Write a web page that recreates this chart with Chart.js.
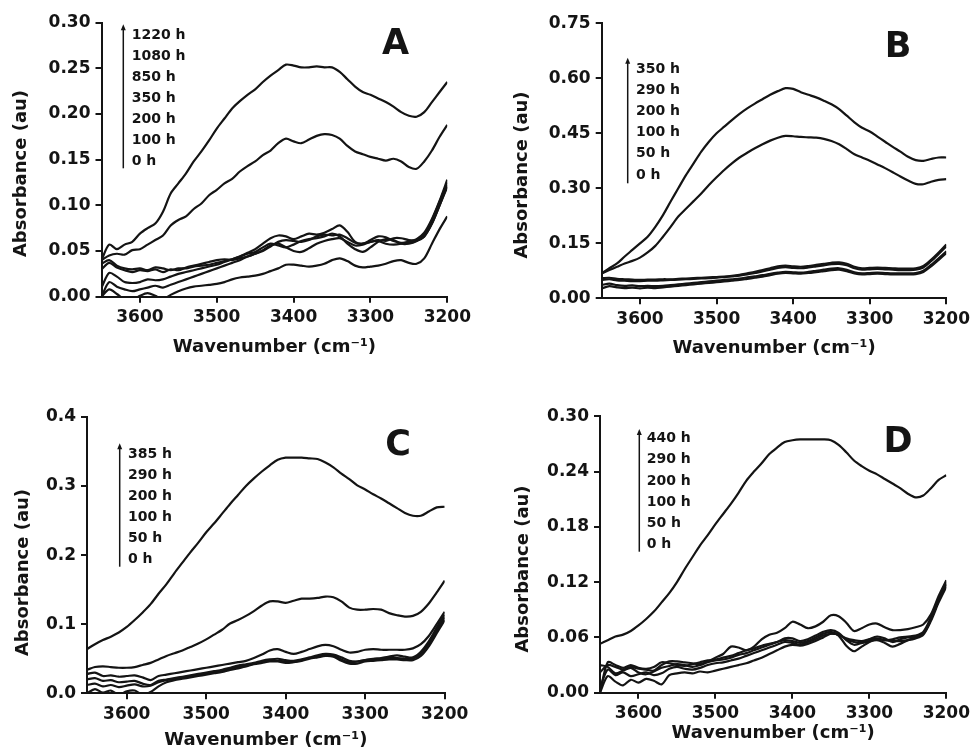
<!DOCTYPE html>
<html lang="en">
<head>
<meta charset="UTF-8">
<title>Absorbance vs wavenumber</title>
<script src="https://cdn.jsdelivr.net/npm/chart.js"></script>
<style>
  body { margin: 0; background: #fff; }
  #wrap { position: relative; width: 975px; height: 750px; }
  #wrap canvas { position: absolute; }
</style>
</head>
<body>
<div id="wrap">
  <canvas id="chartA" width="487" height="375" style="left:0;top:0"></canvas>
  <canvas id="chartB" width="488" height="375" style="left:487px;top:0"></canvas>
  <canvas id="chartC" width="487" height="375" style="left:0;top:375px"></canvas>
  <canvas id="chartD" width="488" height="375" style="left:487px;top:375px"></canvas>
</div>
<script>
  // wavenumber grid (cm-1), shared by all panels
  const wavenumbers = [3650, 3640, 3630, 3620, 3610, 3600, 3590, 3580, 3570, 3560,
    3550, 3540, 3530, 3520, 3510, 3500, 3490, 3480, 3470, 3460,
    3450, 3440, 3430, 3420, 3410, 3400, 3390, 3380, 3370, 3360,
    3350, 3340, 3330, 3320, 3310, 3300, 3290, 3280, 3270, 3260,
    3250, 3240, 3230, 3220, 3210, 3200];
  const xTicks = [3600, 3500, 3400, 3300, 3200];

  // panel A
  const labelsA = ['1220 h', '1080 h', '850 h', '350 h', '200 h', '100 h', '0 h'];
  const yTicksA = [0, 0.05, 0.10, 0.15, 0.20, 0.25, 0.30];
  const a1220 = [0.040, 0.057, 0.052, 0.057, 0.060, 0.069, 0.075, 0.080, 0.093, 0.113, 0.124, 0.135, 0.148, 0.159, 0.171, 0.184, 0.195, 0.206, 0.214, 0.221, 0.227, 0.235, 0.242, 0.248, 0.254, 0.253, 0.251, 0.251, 0.252, 0.251, 0.251, 0.246, 0.238, 0.230, 0.224, 0.221, 0.217, 0.213, 0.208, 0.202, 0.198, 0.197, 0.202, 0.213, 0.224, 0.235];
  const a1080 = [0.040, 0.045, 0.047, 0.046, 0.051, 0.052, 0.057, 0.062, 0.067, 0.078, 0.084, 0.088, 0.096, 0.102, 0.111, 0.117, 0.124, 0.129, 0.137, 0.143, 0.148, 0.155, 0.160, 0.168, 0.173, 0.170, 0.168, 0.172, 0.176, 0.178, 0.177, 0.173, 0.165, 0.159, 0.156, 0.153, 0.151, 0.149, 0.151, 0.148, 0.142, 0.140, 0.148, 0.160, 0.175, 0.188];
  const a850 = [0.036, 0.040, 0.034, 0.031, 0.030, 0.031, 0.029, 0.032, 0.031, 0.029, 0.031, 0.031, 0.033, 0.034, 0.035, 0.037, 0.039, 0.041, 0.044, 0.048, 0.052, 0.058, 0.064, 0.067, 0.066, 0.063, 0.066, 0.069, 0.068, 0.070, 0.074, 0.078, 0.071, 0.060, 0.058, 0.062, 0.066, 0.065, 0.061, 0.059, 0.060, 0.063, 0.070, 0.085, 0.105, 0.128];
  const a350 = [0.030, 0.037, 0.032, 0.029, 0.027, 0.029, 0.028, 0.030, 0.027, 0.030, 0.029, 0.032, 0.034, 0.036, 0.038, 0.040, 0.041, 0.040, 0.042, 0.044, 0.047, 0.050, 0.055, 0.060, 0.062, 0.061, 0.060, 0.062, 0.066, 0.068, 0.067, 0.068, 0.064, 0.059, 0.058, 0.060, 0.062, 0.061, 0.064, 0.064, 0.062, 0.062, 0.066, 0.080, 0.100, 0.122];
  const a200 = [0.010, 0.026, 0.022, 0.016, 0.015, 0.016, 0.019, 0.018, 0.019, 0.022, 0.025, 0.027, 0.029, 0.031, 0.033, 0.035, 0.038, 0.041, 0.044, 0.047, 0.049, 0.054, 0.058, 0.056, 0.054, 0.057, 0.061, 0.063, 0.064, 0.066, 0.069, 0.066, 0.058, 0.052, 0.049, 0.054, 0.060, 0.063, 0.062, 0.058, 0.058, 0.061, 0.068, 0.084, 0.104, 0.125];
  const a100 = [0.000, 0.016, 0.011, 0.008, 0.006, 0.008, 0.010, 0.012, 0.010, 0.013, 0.016, 0.019, 0.022, 0.025, 0.028, 0.031, 0.034, 0.037, 0.040, 0.044, 0.047, 0.051, 0.056, 0.058, 0.054, 0.050, 0.049, 0.053, 0.058, 0.061, 0.063, 0.064, 0.060, 0.056, 0.057, 0.060, 0.061, 0.058, 0.057, 0.058, 0.060, 0.061, 0.066, 0.080, 0.100, 0.120];
  const a0 = [0.000, 0.008, 0.003, -0.003, -0.004, 0.001, 0.004, 0.001, -0.003, 0.002, 0.006, 0.009, 0.011, 0.012, 0.013, 0.014, 0.016, 0.019, 0.021, 0.022, 0.023, 0.025, 0.028, 0.031, 0.035, 0.035, 0.034, 0.033, 0.034, 0.036, 0.040, 0.042, 0.039, 0.034, 0.032, 0.033, 0.034, 0.036, 0.039, 0.040, 0.037, 0.036, 0.042, 0.058, 0.074, 0.088];

  // panel B
  const labelsB = ['350 h', '290 h', '200 h', '100 h', '50 h', '0 h'];
  const yTicksB = [0, 0.15, 0.30, 0.45, 0.60, 0.75];
  const b350 = [0.068, 0.082, 0.095, 0.114, 0.132, 0.150, 0.168, 0.195, 0.227, 0.264, 0.300, 0.336, 0.368, 0.400, 0.427, 0.450, 0.468, 0.486, 0.503, 0.518, 0.531, 0.543, 0.555, 0.565, 0.573, 0.571, 0.562, 0.555, 0.548, 0.539, 0.529, 0.516, 0.498, 0.480, 0.465, 0.455, 0.441, 0.427, 0.413, 0.400, 0.386, 0.377, 0.375, 0.380, 0.384, 0.384];
  const b290 = [0.068, 0.077, 0.086, 0.095, 0.102, 0.111, 0.125, 0.143, 0.168, 0.195, 0.223, 0.244, 0.265, 0.286, 0.309, 0.330, 0.350, 0.368, 0.384, 0.397, 0.409, 0.420, 0.430, 0.438, 0.443, 0.442, 0.440, 0.439, 0.438, 0.435, 0.429, 0.420, 0.407, 0.393, 0.384, 0.375, 0.365, 0.355, 0.344, 0.332, 0.321, 0.312, 0.311, 0.318, 0.323, 0.325];
  const b200 = [0.055, 0.056, 0.053, 0.052, 0.051, 0.050, 0.051, 0.051, 0.052, 0.052, 0.053, 0.054, 0.055, 0.056, 0.057, 0.058, 0.059, 0.061, 0.064, 0.068, 0.072, 0.077, 0.082, 0.087, 0.089, 0.087, 0.086, 0.088, 0.091, 0.094, 0.097, 0.098, 0.094, 0.086, 0.082, 0.083, 0.084, 0.083, 0.082, 0.081, 0.081, 0.082, 0.088, 0.105, 0.125, 0.147];
  const b100 = [0.050, 0.052, 0.049, 0.048, 0.047, 0.047, 0.048, 0.048, 0.049, 0.050, 0.051, 0.052, 0.053, 0.054, 0.055, 0.056, 0.058, 0.060, 0.062, 0.065, 0.069, 0.073, 0.078, 0.083, 0.085, 0.083, 0.082, 0.084, 0.087, 0.090, 0.093, 0.094, 0.090, 0.082, 0.078, 0.079, 0.080, 0.079, 0.078, 0.077, 0.077, 0.078, 0.084, 0.101, 0.121, 0.142];
  const b50 = [0.036, 0.040, 0.036, 0.034, 0.035, 0.033, 0.034, 0.033, 0.034, 0.036, 0.038, 0.040, 0.042, 0.044, 0.046, 0.048, 0.050, 0.052, 0.054, 0.057, 0.060, 0.063, 0.067, 0.070, 0.072, 0.071, 0.070, 0.072, 0.075, 0.078, 0.081, 0.082, 0.078, 0.071, 0.068, 0.069, 0.070, 0.069, 0.068, 0.068, 0.068, 0.069, 0.075, 0.091, 0.109, 0.128];
  const b0 = [0.027, 0.033, 0.030, 0.028, 0.029, 0.027, 0.029, 0.028, 0.030, 0.032, 0.034, 0.036, 0.038, 0.040, 0.042, 0.044, 0.046, 0.048, 0.050, 0.053, 0.056, 0.059, 0.063, 0.067, 0.069, 0.068, 0.067, 0.069, 0.071, 0.074, 0.077, 0.078, 0.074, 0.068, 0.065, 0.066, 0.067, 0.066, 0.065, 0.065, 0.065, 0.066, 0.072, 0.087, 0.105, 0.123];

  // panel C
  const labelsC = ['385 h', '290 h', '200 h', '100 h', '50 h', '0 h'];
  const yTicksC = [0, 0.1, 0.2, 0.3, 0.4];
  const c385 = [0.064, 0.071, 0.077, 0.082, 0.088, 0.096, 0.106, 0.117, 0.129, 0.144, 0.158, 0.174, 0.189, 0.204, 0.218, 0.233, 0.246, 0.260, 0.274, 0.287, 0.300, 0.311, 0.321, 0.330, 0.338, 0.341, 0.341, 0.341, 0.340, 0.339, 0.334, 0.327, 0.318, 0.310, 0.301, 0.295, 0.288, 0.282, 0.275, 0.268, 0.261, 0.257, 0.257, 0.263, 0.269, 0.270];
  const c290 = [0.034, 0.038, 0.039, 0.038, 0.037, 0.037, 0.038, 0.041, 0.044, 0.049, 0.054, 0.058, 0.062, 0.067, 0.072, 0.078, 0.085, 0.092, 0.101, 0.106, 0.112, 0.119, 0.127, 0.133, 0.133, 0.131, 0.134, 0.137, 0.137, 0.138, 0.140, 0.139, 0.133, 0.124, 0.121, 0.121, 0.122, 0.121, 0.116, 0.113, 0.111, 0.112, 0.118, 0.130, 0.146, 0.163];
  const c200 = [0.028, 0.030, 0.025, 0.026, 0.024, 0.025, 0.026, 0.023, 0.019, 0.025, 0.027, 0.029, 0.031, 0.033, 0.035, 0.037, 0.039, 0.041, 0.043, 0.045, 0.047, 0.051, 0.056, 0.062, 0.064, 0.060, 0.057, 0.060, 0.064, 0.068, 0.070, 0.068, 0.063, 0.059, 0.060, 0.063, 0.064, 0.063, 0.063, 0.063, 0.063, 0.065, 0.071, 0.083, 0.100, 0.118];
  const c100 = [0.020, 0.022, 0.018, 0.019, 0.016, 0.017, 0.018, 0.014, 0.012, 0.018, 0.020, 0.022, 0.024, 0.026, 0.028, 0.030, 0.032, 0.034, 0.037, 0.040, 0.042, 0.044, 0.047, 0.049, 0.050, 0.048, 0.047, 0.049, 0.052, 0.055, 0.057, 0.056, 0.052, 0.047, 0.046, 0.048, 0.050, 0.051, 0.053, 0.055, 0.053, 0.052, 0.060, 0.075, 0.095, 0.114];
  const c50 = [0.012, 0.014, 0.010, 0.012, 0.009, 0.011, 0.013, 0.010, 0.011, 0.016, 0.019, 0.021, 0.023, 0.025, 0.027, 0.029, 0.031, 0.033, 0.036, 0.038, 0.040, 0.043, 0.045, 0.047, 0.047, 0.046, 0.046, 0.048, 0.051, 0.053, 0.055, 0.054, 0.049, 0.045, 0.046, 0.048, 0.049, 0.050, 0.051, 0.051, 0.050, 0.050, 0.057, 0.072, 0.091, 0.110];
  const c0 = [0.000, 0.006, 0.001, 0.004, -0.002, 0.003, 0.004, -0.002, 0.002, 0.010, 0.016, 0.019, 0.021, 0.023, 0.025, 0.027, 0.029, 0.031, 0.034, 0.036, 0.039, 0.042, 0.044, 0.046, 0.046, 0.044, 0.045, 0.047, 0.050, 0.052, 0.054, 0.053, 0.047, 0.043, 0.043, 0.046, 0.047, 0.048, 0.049, 0.049, 0.048, 0.048, 0.054, 0.068, 0.087, 0.106];

  // panel D
  const labelsD = ['440 h', '290 h', '200 h', '100 h', '50 h', '0 h'];
  const yTicksD = [0, 0.06, 0.12, 0.18, 0.24, 0.30];
  const d440 = [0.053, 0.057, 0.061, 0.063, 0.067, 0.073, 0.080, 0.088, 0.098, 0.108, 0.120, 0.134, 0.147, 0.160, 0.171, 0.183, 0.194, 0.205, 0.217, 0.230, 0.240, 0.249, 0.259, 0.266, 0.272, 0.274, 0.275, 0.275, 0.275, 0.275, 0.274, 0.269, 0.261, 0.252, 0.246, 0.241, 0.237, 0.232, 0.227, 0.222, 0.216, 0.212, 0.214, 0.222, 0.231, 0.236];
  const d290 = [0.022, 0.030, 0.028, 0.025, 0.028, 0.026, 0.025, 0.024, 0.030, 0.034, 0.034, 0.033, 0.032, 0.031, 0.034, 0.038, 0.042, 0.050, 0.049, 0.046, 0.050, 0.058, 0.063, 0.065, 0.070, 0.077, 0.074, 0.070, 0.072, 0.077, 0.084, 0.083, 0.076, 0.067, 0.070, 0.074, 0.075, 0.071, 0.068, 0.068, 0.069, 0.071, 0.074, 0.085, 0.105, 0.122];
  const d200 = [0.000, 0.033, 0.030, 0.027, 0.030, 0.027, 0.026, 0.028, 0.033, 0.032, 0.030, 0.029, 0.031, 0.033, 0.035, 0.036, 0.038, 0.040, 0.043, 0.046, 0.048, 0.051, 0.053, 0.055, 0.059, 0.059, 0.056, 0.058, 0.062, 0.066, 0.068, 0.065, 0.057, 0.052, 0.054, 0.058, 0.061, 0.059, 0.055, 0.058, 0.060, 0.061, 0.064, 0.080, 0.100, 0.120];
  const d100 = [0.030, 0.028, 0.021, 0.024, 0.027, 0.022, 0.020, 0.023, 0.027, 0.029, 0.031, 0.030, 0.028, 0.030, 0.033, 0.035, 0.036, 0.038, 0.041, 0.043, 0.046, 0.049, 0.052, 0.055, 0.057, 0.056, 0.054, 0.056, 0.060, 0.064, 0.066, 0.062, 0.051, 0.045, 0.050, 0.055, 0.058, 0.057, 0.058, 0.060, 0.061, 0.062, 0.066, 0.082, 0.102, 0.118];
  const d50 = [0.005, 0.025, 0.019, 0.022, 0.018, 0.020, 0.022, 0.019, 0.021, 0.026, 0.028, 0.026, 0.025, 0.027, 0.030, 0.032, 0.033, 0.035, 0.037, 0.040, 0.043, 0.046, 0.049, 0.052, 0.055, 0.054, 0.052, 0.055, 0.058, 0.062, 0.064, 0.063, 0.058, 0.055, 0.054, 0.056, 0.057, 0.054, 0.050, 0.053, 0.057, 0.060, 0.064, 0.080, 0.100, 0.117];
  const d0 = [0.000, 0.018, 0.012, 0.008, 0.014, 0.011, 0.015, 0.013, 0.009, 0.019, 0.021, 0.022, 0.021, 0.023, 0.022, 0.024, 0.026, 0.028, 0.030, 0.032, 0.035, 0.038, 0.042, 0.046, 0.050, 0.052, 0.051, 0.053, 0.056, 0.060, 0.064, 0.063, 0.059, 0.057, 0.056, 0.058, 0.059, 0.057, 0.056, 0.056, 0.057, 0.059, 0.063, 0.078, 0.098, 0.115];

  const ink = '#141414';
  const fontFamily = '"DejaVu Sans", "Liberation Sans", sans-serif';
  Chart.defaults.font.family = fontFamily;
  Chart.defaults.font.weight = 'bold';
  Chart.defaults.color = ink;

  // texts drawn on top: y title, panel letter, time legend with arrow
  const panelNotes = {
    id: 'panelNotes',
    afterDraw(chart, args, o) {
      const ctx = chart.ctx;
      ctx.save();
      ctx.fillStyle = ink;
      ctx.textBaseline = 'middle';

      ctx.save();
      ctx.font = 'bold 18px ' + fontFamily;
      ctx.textAlign = 'center';
      ctx.translate(o.yTitle[0], o.yTitle[1]);
      ctx.rotate(-Math.PI / 2);
      ctx.fillText('Absorbance (au)', 0, 0);
      ctx.restore();

      ctx.font = 'bold 35px ' + fontFamily;
      ctx.textAlign = 'center';
      ctx.fillText(o.letter, o.letterPos[0], o.letterPos[1]);

      ctx.font = 'bold 14px ' + fontFamily;
      ctx.textAlign = 'left';
      o.labels.forEach((t, i) => ctx.fillText(t, o.legendX, o.legendY + i * o.legendStep));

      const [ax, top, bottom] = o.arrow;
      ctx.strokeStyle = ink;
      ctx.lineWidth = 1.5;
      ctx.beginPath();
      ctx.moveTo(ax, bottom);
      ctx.lineTo(ax, top + 4);
      ctx.stroke();
      ctx.beginPath();
      ctx.moveTo(ax, top);
      ctx.lineTo(ax - 2.5, top + 6);
      ctx.lineTo(ax + 2.5, top + 6);
      ctx.closePath();
      ctx.fill();
      ctx.restore();
    }
  };

  function makePanel(id, series, yTicks, decimals, box, notes) {
    return new Chart(document.getElementById(id), {
      type: 'line',
      data: {
        datasets: series.map(s => ({
          data: wavenumbers.map((w, i) => ({ x: w, y: s[i] })),
          borderColor: ink,
          borderWidth: 2.2,
          pointRadius: 0,
          tension: 0.3,
          fill: false
        }))
      },
      options: {
        responsive: false,
        animation: false,
        devicePixelRatio: 1,
        layout: { padding: { left: 0, top: box.top, right: box.right, bottom: 0 } },
        plugins: { legend: { display: false }, tooltip: { enabled: false }, panelNotes: notes },
        scales: {
          x: {
            type: 'linear',
            reverse: true,
            min: 3200,
            max: 3650,
            afterBuildTicks: s => { s.ticks = xTicks.map(v => ({ value: v })); },
            afterFit: s => { s.height = box.xHeight; },
            ticks: { font: { size: 17 }, padding: 5, color: ink, callback: v => String(v) },
            grid: { drawOnChartArea: false, color: ink, lineWidth: 2, tickLength: 6 },
            border: { color: ink, width: 2 },
            title: {
              display: true,
              text: 'Wavenumber (cm\u207B\u00B9)',
              font: { size: 18, lineHeight: 1 },
              color: ink,
              padding: { top: 0, bottom: box.titlePad }
            }
          },
          y: {
            min: 0,
            max: yTicks[yTicks.length - 1],
            afterBuildTicks: s => { s.ticks = yTicks.map(v => ({ value: v })); },
            afterFit: s => { s.width = box.left; },
            ticks: { font: { size: 17 }, padding: 5, color: ink, callback: v => Number(v).toFixed(decimals) },
            grid: { drawOnChartArea: false, color: ink, lineWidth: 2, tickLength: 6 },
            border: { color: ink, width: 2 }
          }
        }
      },
      plugins: [panelNotes]
    });
  }

  makePanel('chartA', [a1220, a1080, a850, a350, a200, a100, a0], yTicksA, 2,
    { left: 101.5, top: 22.6, right: 39.7, xHeight: 78.3, titlePad: 19 },
    { letter: 'A', letterPos: [395.5, 45], labels: labelsA, legendX: 131.7, legendY: 35.7, legendStep: 21,
      arrow: [123.3, 24.3, 168.3], yTitle: [21, 173.5] });

  makePanel('chartB', [b350, b290, b200, b100, b50, b0], yTicksB, 2,
    { left: 114.7, top: 23.3, right: 28.3, xHeight: 76.7, titlePad: 18 },
    { letter: 'B', letterPos: [411, 48], labels: labelsB, legendX: 149, legendY: 69, legendStep: 21.2,
      arrow: [140.7, 57.7, 183.3], yTitle: [35.5, 175] });

  makePanel('chartC', [c385, c290, c200, c100, c50, c0], yTicksC, 1,
    { left: 87, top: 41.9, right: 42.3, xHeight: 56.7, titlePad: 1 },
    { letter: 'C', letterPos: [398, 70.7], labels: labelsC, legendX: 128, legendY: 79.3, legendStep: 21,
      arrow: [119.7, 68.3, 191.7], yTitle: [23.3, 197.5] });

  makePanel('chartD', [d440, d290, d200, d100, d50, d0], yTicksD, 2,
    { left: 113, top: 41.3, right: 26.7, xHeight: 57.3, titlePad: 7.5 },
    { letter: 'D', letterPos: [411, 67.5], labels: labelsD, legendX: 159.7, legendY: 63.3, legendStep: 21.3,
      arrow: [152.3, 54, 176.7], yTitle: [36, 194] });
</script>
</body>
</html>
